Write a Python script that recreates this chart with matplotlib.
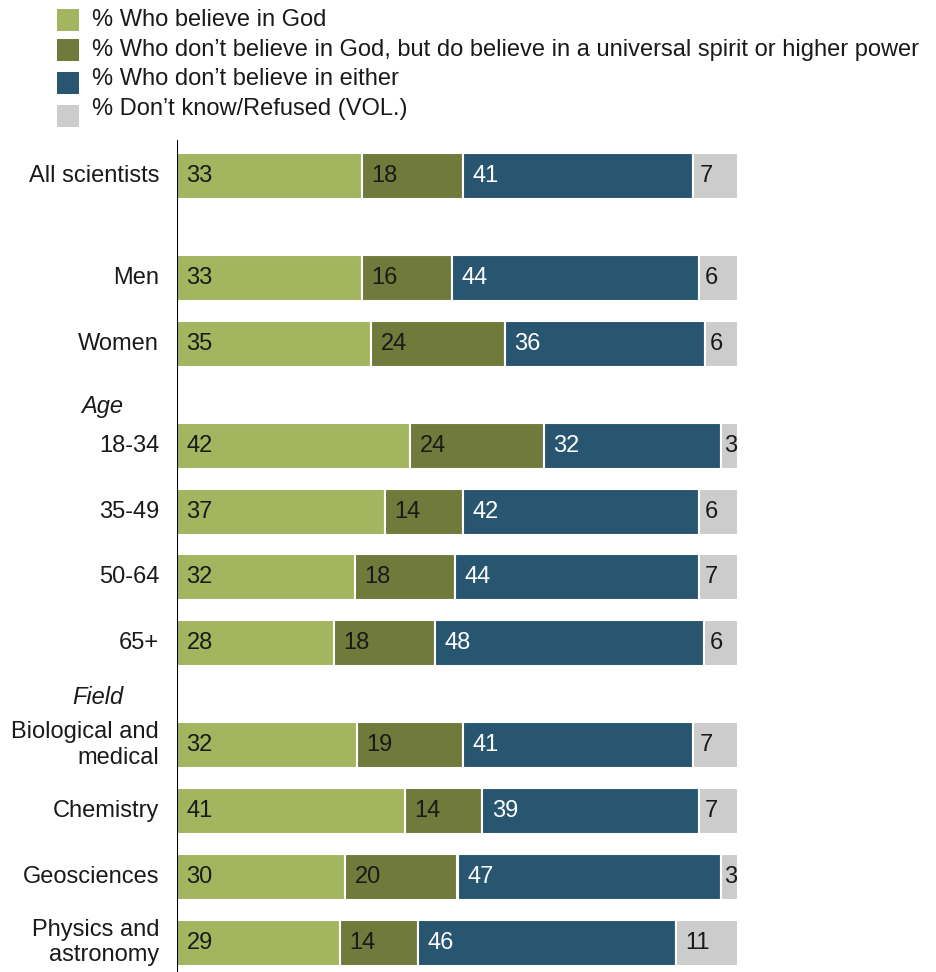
"""Stacked bar chart: scientists' belief in God by group."""

import matplotlib

matplotlib.use("Agg")

import matplotlib.pyplot as plt
import numpy as np
from matplotlib.patches import Rectangle

plt.rcParams["font.family"] = ["Liberation Sans", "DejaVu Sans"]

labels = [
    "All scientists",
    "Men",
    "Women",
    "18-34",
    "35-49",
    "50-64",
    "65+",
    "Biological and\nmedical",
    "Chemistry",
    "Geosciences",
    "Physics and\nastronomy",
]
believe_god = [33, 33, 35, 42, 37, 32, 28, 32, 41, 30, 29]
higher_power = [18, 16, 24, 24, 14, 18, 18, 19, 14, 20, 14]
neither = [41, 44, 36, 32, 42, 44, 48, 41, 39, 47, 46]
dont_know = [7, 6, 6, 3, 6, 7, 6, 7, 7, 3, 11]

series_names = [
    "% Who believe in God",
    "% Who don\u2019t believe in God, but do believe in a universal spirit or higher power",
    "% Who don\u2019t believe in either",
    "% Don\u2019t know/Refused (VOL.)",
]
colors = ["#a3b55f", "#6f7a3b", "#285570", "#cccccc"]
text_colors = ["#1a1a1a", "#1a1a1a", "white", "#1a1a1a"]

# extra space before a row (group breaks), and group headers
row_gaps = [0, 0.55, 0, 0.55, 0, 0, 0, 0.55, 0, 0, 0]
headers = [("Age", 3, 0.59), ("Field", 7, 0.72)]

W, H = 937, 972
FS = 17.0

fig = plt.figure(figsize=(W / 100, H / 100), dpi=100)
ax_left = 177 / W
ax = fig.add_axes([ax_left, 0, 1 - ax_left, 1])

unit_px = 5.61
row_px = 65.8
first_row_px = 176
ax.set_xlim(0, (W - 177) / unit_px)
ax.set_ylim((H - first_row_px) / row_px, -first_row_px / row_px)
ax.axis("off")

y = np.cumsum(1 + np.array(row_gaps)) - 1
data = np.array([believe_god, higher_power, neither, dont_know], dtype=float)

# the grey segment takes the rest of the 100% bar; rows over 100 are scaled
widths = data.copy()
widths[3] = np.maximum(data[3], 100 - data[:3].sum(axis=0))
widths = widths / widths.sum(axis=0) * 100

left = np.zeros(len(labels))
for k in range(4):
    ax.barh(y, widths[k], left=left, height=0.7, color=colors[k],
            edgecolor="white", linewidth=1.5)
    for i in range(len(labels)):
        pad = min(1.7, widths[k][i] * 0.15)
        ax.text(left[i] + pad, y[i], f"{int(data[k][i])}", va="center",
                ha="left", fontsize=FS, color=text_colors[k])
    left += widths[k]

for i, lab in enumerate(labels):
    ax.text(-3.2, y[i], lab, ha="right", va="center", fontsize=FS,
            color="#1a1a1a", clip_on=False)

for name, idx, offset in headers:
    ax.text(-9.6, y[idx] - offset, name, ha="right", va="center",
            fontsize=FS, style="italic", color="#1a1a1a", clip_on=False)

ax.vlines(0, -0.55, y[-1] + 1, color="black", linewidth=1.5)

# legend
sq_centers = [20, 50, 83, 116]
txt_centers = [20, 50, 79, 109]
for k in range(4):
    fig.patches.append(
        Rectangle((57 / W, 1 - (sq_centers[k] + 11) / H), 22 / W, 22 / H,
                  transform=fig.transFigure, facecolor=colors[k],
                  edgecolor="none")
    )
    fig.text(92 / W, 1 - txt_centers[k] / H, series_names[k], ha="left",
             va="center", fontsize=FS, color="#1a1a1a")

fig.savefig("out.png", dpi=100)
